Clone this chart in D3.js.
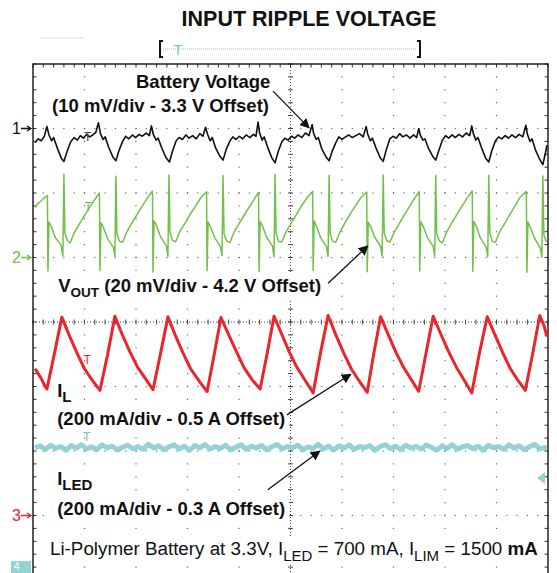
<!DOCTYPE html>
<html><head><meta charset="utf-8">
<script src="https://cdn.jsdelivr.net/npm/d3@7"></script>
<style>body{margin:0;background:#fff}svg{display:block}text{font-family:"Liberation Sans",Arial,sans-serif}</style>
</head><body><svg id="c" width="557" height="573"></svg>
<script>
// ---------- data (time in divisions, amplitude in channel units relative to channel marker) ----------
// CH1 battery voltage, mV (10 mV/div, 3.3 V offset)
const batteryVoltage = [
[0.04,-2.2],[0.10,-1.6],[0.16,-1.9],[0.22,-1.2],[0.27,0.3],[0.31,-1.0],[0.36,-1.9],[0.40,-1.4],[0.48,-3.2],[0.55,-4.6],[0.60,-5.1],[0.66,-3.6],[0.73,-2.1],[0.80,-1.4],[0.86,-1.8],[0.92,-1.1],[0.98,-1.5],[1.04,-0.9],[1.10,-1.3],[1.16,-1.0],[1.22,-0.6],[1.27,0.9],
[1.31,-0.8],[1.36,-1.7],[1.40,-1.3],[1.47,-2.9],[1.55,-4.4],[1.61,-5.0],[1.67,-3.4],[1.74,-2.0],[1.80,-1.2],[1.86,-1.6],[1.93,-1.0],[1.99,-1.4],[2.06,-0.9],[2.12,-1.2],[2.20,-0.7],[2.26,-1.1],[2.30,0.4],
[2.34,-1.0],[2.39,-1.8],[2.43,-1.5],[2.50,-3.0],[2.58,-4.5],[2.65,-5.2],[2.71,-3.5],[2.78,-1.9],[2.84,-1.4],[2.90,-1.7],[2.97,-1.0],[3.03,-1.5],[3.10,-1.1],[3.17,-1.6],[3.24,-0.8],[3.30,-1.2],[3.35,0.2],
[3.39,-0.9],[3.44,-1.9],[3.48,-1.4],[3.55,-3.1],[3.63,-4.3],[3.69,-4.9],[3.75,-3.3],[3.82,-2.0],[3.88,-1.3],[3.94,-1.7],[4.01,-1.2],[4.07,-1.6],[4.14,-1.0],[4.21,-1.4],[4.28,-0.9],[4.33,-1.2],[4.37,1.0],
[4.40,-0.7],[4.45,-1.8],[4.49,-1.3],[4.56,-3.0],[4.64,-4.6],[4.70,-5.3],[4.76,-3.6],[4.83,-2.1],[4.89,-1.5],[4.95,-1.8],[5.02,-1.2],[5.08,-1.5],[5.15,-1.0],[5.22,-1.4],[5.29,-0.7],[5.36,-1.1],[5.42,0.6],
[5.45,-0.8],[5.50,-1.7],[5.54,-1.4],[5.61,-3.2],[5.69,-4.4],[5.75,-5.0],[5.81,-3.5],[5.88,-2.2],[5.94,-1.3],[6.00,-1.7],[6.07,-1.3],[6.13,-1.0],[6.20,-1.4],[6.27,-1.1],[6.34,-0.8],[6.41,-1.3],[6.47,0.3],
[6.50,-0.9],[6.55,-1.9],[6.59,-1.5],[6.66,-3.0],[6.74,-4.5],[6.80,-5.1],[6.86,-3.3],[6.93,-1.6],[6.99,-1.2],[7.05,-1.5],[7.12,-0.8],[7.18,-1.3],[7.25,-1.0],[7.32,-1.5],[7.39,-1.0],[7.45,-1.4],[7.49,0.0],
[7.52,-1.0],[7.57,-1.8],[7.61,-1.6],[7.68,-3.1],[7.76,-4.3],[7.82,-4.9],[7.88,-3.4],[7.95,-1.8],[8.01,-1.1],[8.07,-1.5],[8.14,-1.0],[8.20,-1.4],[8.27,-0.9],[8.34,-1.3],[8.41,-0.7],[8.48,-1.1],[8.52,0.4],
[8.55,-0.8],[8.60,-1.8],[8.64,-1.4],[8.71,-3.0],[8.79,-4.6],[8.85,-5.2],[8.91,-3.4],[8.98,-1.9],[9.04,-1.3],[9.10,-1.6],[9.17,-1.1],[9.23,-1.5],[9.30,-1.0],[9.37,-1.4],[9.44,-0.9],[9.51,-1.3],[9.57,0.5],
[9.60,-0.9],[9.65,-2.0],[9.69,-1.6],[9.76,-3.4],[9.84,-4.8],[9.90,-5.6],[9.95,-3.8],[9.98,-2.6]
];
// CH2 output voltage, mV (20 mV/div, 4.2 V offset)
const outputVoltage = [
[0.04,15.5],[0.10,16.8],[0.16,17.6],[0.22,18.5],[0.28,19.2],
[0.29,-4.2],[0.31,11.0],[0.35,9.8],[0.44,6.0],[0.54,4.0],[0.58,0.5],[0.60,25.8],[0.62,7.5],[0.67,5.2],[0.72,4.5],[0.80,7.6],[0.90,10.4],[1.00,13.0],[1.10,15.6],[1.20,18.0],[1.29,20.0],
[1.30,-4.0],[1.32,10.8],[1.36,9.6],[1.45,5.8],[1.56,3.2],[1.59,0.3],[1.61,25.2],[1.63,7.2],[1.68,5.0],[1.74,4.7],[1.82,7.9],[1.92,10.7],[2.02,13.3],[2.12,15.9],[2.22,18.4],[2.32,20.6],
[2.33,-4.5],[2.35,11.4],[2.39,10.2],[2.48,6.3],[2.59,3.6],[2.62,0.4],[2.64,25.6],[2.66,7.8],[2.71,5.3],[2.77,4.9],[2.85,8.0],[2.95,10.6],[3.05,13.4],[3.15,15.8],[3.26,18.6],[3.37,20.4],
[3.38,-4.1],[3.40,11.0],[3.44,9.7],[3.53,6.1],[3.64,3.4],[3.67,0.6],[3.69,25.4],[3.71,7.4],[3.76,5.1],[3.82,4.6],[3.90,7.7],[4.00,10.5],[4.10,13.1],[4.20,15.7],[4.30,18.2],[4.38,20.2],
[4.39,-4.3],[4.41,11.2],[4.45,10.0],[4.54,6.2],[4.65,3.5],[4.68,0.2],[4.70,25.7],[4.72,7.6],[4.77,5.0],[4.83,4.8],[4.91,7.8],[5.01,10.6],[5.11,13.2],[5.21,15.9],[5.32,18.5],[5.43,20.5],
[5.44,-4.0],[5.46,11.3],[5.50,9.9],[5.59,6.0],[5.70,3.3],[5.73,0.3],[5.75,25.5],[5.77,7.3],[5.82,5.0],[5.88,4.7],[5.96,7.9],[6.06,10.8],[6.16,13.5],[6.26,16.0],[6.37,18.6],[6.48,20.3],
[6.49,-4.4],[6.51,10.9],[6.55,9.8],[6.64,6.2],[6.75,3.4],[6.78,0.4],[6.80,25.6],[6.82,7.5],[6.87,5.2],[6.93,4.8],[7.01,7.7],[7.11,10.5],[7.21,13.2],[7.31,15.8],[7.41,18.4],[7.50,20.4],
[7.51,-4.2],[7.53,11.1],[7.57,9.9],[7.66,6.1],[7.77,3.5],[7.80,0.5],[7.82,25.4],[7.84,7.4],[7.89,5.1],[7.95,4.6],[8.03,7.8],[8.13,10.7],[8.23,13.3],[8.33,15.9],[8.43,18.5],[8.53,20.6],
[8.54,-4.3],[8.56,11.2],[8.60,10.0],[8.69,6.0],[8.80,3.2],[8.83,0.3],[8.85,25.5],[8.87,7.6],[8.92,5.0],[8.98,4.7],[9.06,7.9],[9.16,10.6],[9.26,13.4],[9.36,16.0],[9.46,18.7],[9.58,20.5],
[9.59,-4.6],[9.61,11.0],[9.65,9.6],[9.74,5.9],[9.85,3.0],[9.88,0.1],[9.90,25.3],[9.92,7.0],[9.96,5.0],[9.98,5.5]
];
// CH3 inductor current, mA (200 mA/div, 0.5 A offset)
const inductorCurrent = [
[0.04,455],[0.10,440],[0.16,425],[0.22,405],[0.27,392],
[0.42,505],[0.56,615],[0.70,560],[0.85,505],[1.00,455],[1.15,420],[1.30,388],
[1.45,500],[1.59,618],[1.73,562],[1.88,508],[2.03,460],[2.18,425],[2.33,390],
[2.48,505],[2.62,616],[2.76,560],[2.91,505],[3.06,455],[3.22,418],[3.38,384],
[3.52,500],[3.65,614],[3.80,560],[3.95,508],[4.10,458],[4.25,422],[4.41,392],
[4.55,505],[4.68,618],[4.83,562],[4.98,506],[5.13,458],[5.28,420],[5.44,380],
[5.58,502],[5.73,620],[5.88,560],[6.03,505],[6.18,455],[6.33,418],[6.49,382],
[6.62,505],[6.75,616],[6.90,560],[7.05,505],[7.20,458],[7.35,420],[7.49,385],
[7.63,502],[7.77,618],[7.92,562],[8.07,508],[8.22,460],[8.37,420],[8.52,380],
[8.67,505],[8.82,616],[8.97,560],[9.12,505],[9.27,455],[9.42,418],[9.56,388],
[9.70,500],[9.84,620],[9.92,590],[9.98,555]
];
// CH4 LED current, mA (200 mA/div, 0.3 A offset)
const ledCurrent = [
[0.04,410],[0.14,416],[0.24,405],[0.34,418],[0.44,408],[0.54,414],[0.64,402],[0.74,417],[0.84,409],[0.94,420],
[1.04,406],[1.14,413],[1.24,404],[1.34,419],[1.44,410],[1.54,415],[1.64,403],[1.74,412],[1.84,418],[1.94,407],
[2.04,414],[2.14,405],[2.24,421],[2.34,409],[2.44,416],[2.54,404],[2.64,413],[2.74,419],[2.84,407],[2.94,415],
[3.04,402],[3.14,417],[3.24,410],[3.34,420],[3.44,406],[3.54,414],[3.64,408],[3.74,418],[3.84,403],[3.94,412],
[4.04,419],[4.14,405],[4.24,415],[4.34,409],[4.44,417],[4.54,404],[4.64,413],[4.74,420],[4.84,407],[4.94,414],
[5.04,410],[5.14,418],[5.24,404],[5.34,413],[5.44,408],[5.54,421],[5.64,406],[5.74,415],[5.84,403],[5.94,416],
[6.04,409],[6.14,419],[6.24,405],[6.34,414],[6.44,410],[6.54,417],[6.64,402],[6.74,413],[6.84,420],[6.94,408],
[7.04,415],[7.14,404],[7.24,418],[7.34,409],[7.44,414],[7.54,406],[7.64,419],[7.74,411],[7.84,403],[7.94,416],
[8.04,408],[8.14,420],[8.24,405],[8.34,413],[8.44,417],[8.54,407],[8.64,415],[8.74,402],[8.84,418],[8.94,410],
[9.04,414],[9.14,405],[9.24,419],[9.34,409],[9.44,416],[9.54,404],[9.64,413],[9.74,420],[9.84,407],[9.98,412]
];
const channelNames = ["1","2","3","4"];
const channelColors = ["#111111","#72c04a","#e8262b","#93d3d3"];
const channelOffsetDiv = [3, 1, -3, -4];
const channelPerDiv = [10, 20, 200, 200];
const channelData = [batteryVoltage, outputVoltage, inductorCurrent, ledCurrent];
const channelWidths = [1.6, 1.5, 3.0, 5];
const triggerMark = [[1.06,-1.9],[1.07,14.4],[1.05,470],[1.04,432]];

// ---------- layout ----------
const svg = d3.select('#c');
const x = d3.scaleLinear().domain([0,10]).range([33,548]);
const y = d3.scaleLinear().domain([-4,4]).range([580,64]);
const chY = (c,v)=> y(channelOffsetDiv[c] + v/channelPerDiv[c]);

svg.append('rect').attr('width',557).attr('height',573).attr('fill','#fff');

// ---------- graticule ----------
const g = svg.append('g');
const minorXs = d3.range(0,10.001,0.2);
const minorYs = d3.range(-4,4.001,0.2);
const dotColor = '#666';
[1,2,3,4,6,7,8,9].forEach(i=>{
  g.selectAll(null).data(minorYs).enter().append('rect')
   .attr('x',x(i)-0.6).attr('y',d=>y(d)-0.6).attr('width',1.2).attr('height',1.2).attr('fill',dotColor);
});
[-3,-2,-1,1,2,3].forEach(j=>{
  g.selectAll(null).data(minorXs).enter().append('rect')
   .attr('x',d=>x(d)-0.6).attr('y',y(j)-0.6).attr('width',1.2).attr('height',1.2).attr('fill',dotColor);
});
// center lines
g.append('line').attr('x1',x(5)).attr('x2',x(5)).attr('y1',y(4)).attr('y2',y(-4))
 .attr('stroke','#444').attr('stroke-width',1).attr('stroke-dasharray','1,2');
g.append('line').attr('x1',x(0)).attr('x2',x(10)).attr('y1',y(0)).attr('y2',y(0))
 .attr('stroke','#444').attr('stroke-width',1).attr('stroke-dasharray','1,2');
g.selectAll(null).data(minorYs).enter().append('line')
 .attr('x1',x(5)-2.5).attr('x2',x(5)+2.5).attr('y1',d=>y(d)).attr('y2',d=>y(d)).attr('stroke','#444');
g.selectAll(null).data(minorXs).enter().append('line')
 .attr('x1',d=>x(d)).attr('x2',d=>x(d)).attr('y1',y(0)-2.5).attr('y2',y(0)+2.5).attr('stroke','#444');
// edge ticks
g.selectAll(null).data(minorYs).enter().append('line')
 .attr('x1',x(0)).attr('x2',x(0)+3.5).attr('y1',d=>y(d)).attr('y2',d=>y(d)).attr('stroke','#333');
g.selectAll(null).data(minorYs).enter().append('line')
 .attr('x1',x(10)-3.5).attr('x2',x(10)).attr('y1',d=>y(d)).attr('y2',d=>y(d)).attr('stroke','#333');
g.selectAll(null).data(minorXs).enter().append('line')
 .attr('x1',d=>x(d)).attr('x2',d=>x(d)).attr('y1',y(4)).attr('y2',y(4)+3.5).attr('stroke','#333');
// frame
g.append('path').attr('d',`M${x(0)},${y(-4)}V${y(4)}H${x(10)}V${y(-4)}`)
 .attr('fill','none').attr('stroke','#222').attr('stroke-width',1.5);

// ---------- label backgrounds + labels ----------
const bgG = svg.append('g');
const traceG = svg.append('g');
const labG = svg.append('g');
const FS = 18.5;
function label(xd, yd, parts, opts={}) {
  const t = labG.append('text').attr('x',x(xd)).attr('y',y(yd))
    .attr('font-size',opts.size||FS).attr('font-weight',opts.weight||'bold').attr('fill','#111');
  parts.forEach(p=>{
    const s = t.append('tspan').text(p.t);
    if (p.sub) s.attr('font-size',p.sub).attr('dy',p.dy);
    if (p.back) s.attr('dy',p.back);
    if (p.w) s.attr('font-weight',p.w);
  });
  return t;
}
const labels = [
  label(2.00, 3.63, [{t:'Battery Voltage'}]),
  label(0.37, 3.26, [{t:'(10 mV/div - 3.3 V Offset)'}]),
  label(0.49, 0.47, [{t:'V'},{t:'OUT',sub:13.5,dy:5},{t:' (20 mV/div - 4.2 V Offset)',back:-5}]),
  label(0.47, -1.16, [{t:'I'},{t:'L',sub:15,dy:5}]),
  label(0.47, -1.60, [{t:'(200 mA/div - 0.5 A Offset)'}]),
  label(0.47, -2.53, [{t:'I'},{t:'LED',sub:15,dy:5}]),
  label(0.47, -2.99, [{t:'(200 mA/div - 0.3 A Offset)'}]),
  label(0.33, -3.61, [{t:'Li-Polymer Battery at 3.3V, I'},{t:'LED',sub:15,dy:6},{t:' = 700 mA, I',back:-6},{t:'LIM',sub:15,dy:6},{t:' = 1500 ',back:-6},{t:'mA',w:'bold'}], {size:18.8, weight:'normal'})
];
labels.forEach(t=>{
  const b = t.node().getBBox();
  bgG.append('rect').attr('x',b.x-4).attr('y',b.y-1).attr('width',b.width+8).attr('height',b.height+2).attr('fill','#fff');
});

// ---------- traces ----------
channelData.forEach((data,c)=>{
  const line = d3.line().x(d=>x(d[0])).y(d=>chY(c,d[1]));
  traceG.append('path').datum(data).attr('d',line).attr('fill','none')
    .attr('stroke',channelColors[c]).attr('stroke-width',channelWidths[c]).attr('stroke-linejoin','round');
});
// trigger "T" markers
triggerMark.forEach((m,c)=>{
  traceG.append('text').attr('x',x(m[0])).attr('y',chY(c,m[1])).attr('text-anchor','middle')
   .attr('font-size',12).attr('fill',c===0?'#444':(c===3?'#6cc4c4':channelColors[c])).text('T');
});

// ---------- arrows ----------
const defs = svg.append('defs');
defs.append('marker').attr('id','ah').attr('viewBox','0 0 10 10').attr('refX',9).attr('refY',5)
  .attr('markerWidth',10).attr('markerHeight',10).attr('markerUnits','userSpaceOnUse').attr('orient','auto')
  .append('path').attr('d','M0,0L10,5L0,10Z').attr('fill','#111');
const arrows = [[4.66,3.58,5.36,3.01],[5.73,0.60,6.50,1.18],[4.93,-1.44,6.17,-0.81],[4.56,-2.60,5.57,-2.00]];
arrows.forEach(a=>{
  labG.append('line').attr('x1',x(a[0])).attr('y1',y(a[1])).attr('x2',x(a[2])).attr('y2',y(a[3]))
    .attr('stroke','#111').attr('stroke-width',1.3).attr('marker-end','url(#ah)');
});

// ---------- channel markers ----------
[0,1,2].forEach(c=>{
  const yy = y(channelOffsetDiv[c]);
  labG.append('text').attr('x',12).attr('y',yy+5.5).attr('font-size',16).attr('fill',channelColors[c]).text(channelNames[c]);
  labG.append('path').attr('d',`M21,${yy}H30M27,${yy-2.5}L31,${yy}L27,${yy+2.5}`)
    .attr('stroke',channelColors[c]).attr('stroke-width',1.3).attr('fill','none');
});
labG.append('rect').attr('x',11).attr('y',561).attr('width',20).attr('height',12).attr('fill',channelColors[3]);
labG.append('text').attr('x',14).attr('y',570).attr('font-size',10).attr('fill','#fff').text(channelNames[3]);
// trigger level arrow (right)
labG.append('path').attr('d','M537,478L545,472V484Z').attr('fill',channelColors[3]);

// ---------- title & record bar ----------
svg.append('text').attr('x',309).attr('y',26).attr('text-anchor','middle').attr('font-size',21.5)
  .attr('font-weight','bold').attr('fill','#111').text('INPUT RIPPLE VOLTAGE');
svg.append('path').attr('d','M163,41H160V57H163M417,41H420V57H417').attr('fill','none').attr('stroke','#111').attr('stroke-width',2);
svg.append('line').attr('x1',163).attr('x2',417).attr('y1',49).attr('y2',49).attr('stroke','#7cc8c8').attr('stroke-dasharray','1,1');
svg.append('text').attr('x',178).attr('y',55).attr('text-anchor','middle').attr('font-size',14).attr('fill','#7cc8c8').text('T');
svg.append('line').attr('x1',40).attr('x2',85).attr('y1',38).attr('y2',38).attr('stroke','#ddd');
</script></body></html>
